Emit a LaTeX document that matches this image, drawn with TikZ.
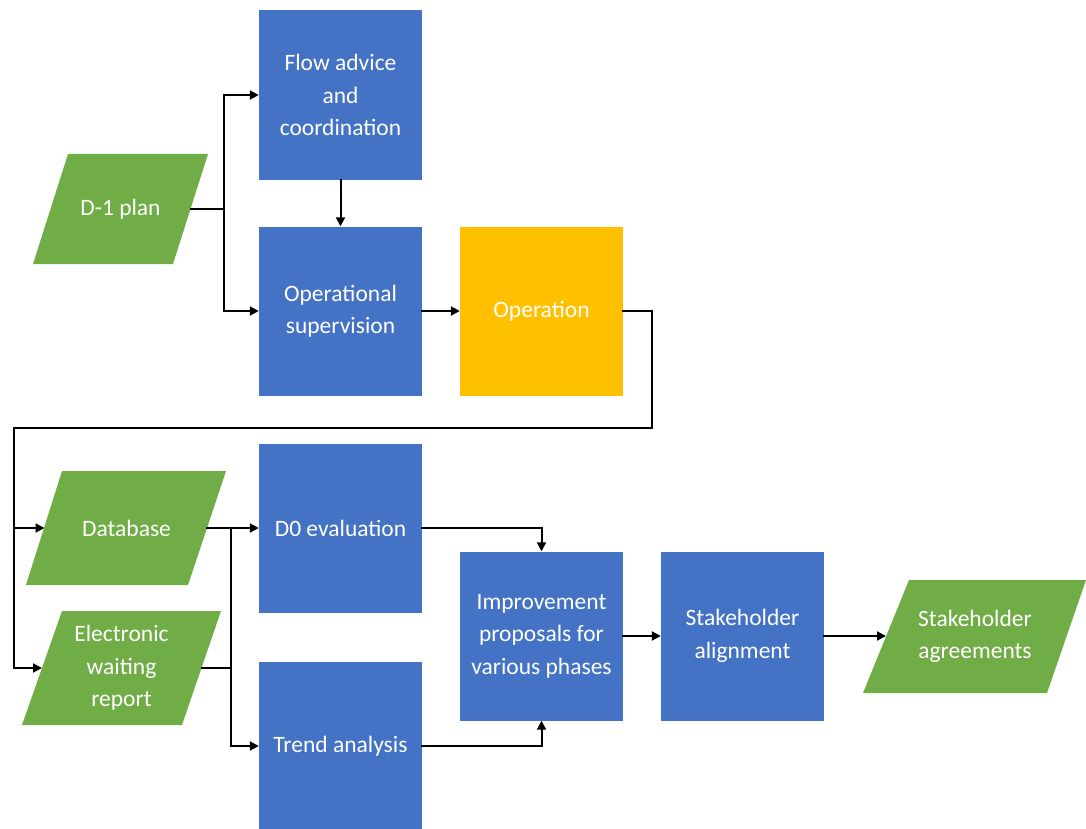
\documentclass[tikz,border=0pt]{standalone}
\usepackage{fontspec}
\setmainfont{Carlito}
\usetikzlibrary{arrows.meta}
\definecolor{boxblue}{HTML}{4472C4}
\definecolor{iogreen}{HTML}{70AD47}
\definecolor{opyellow}{HTML}{FFC000}
\begin{document}
\begin{tikzpicture}[x=1pt,y=-1pt,
  lbl/.style={text=white,align=center,inner sep=0pt,font=\fontsize{23.5}{32.5}\selectfont},
  procbox/.style={lbl,fill=boxblue,minimum width=163pt,minimum height=169pt},
  opbox/.style={procbox,fill=opyellow},
  iofill/.style={fill=iogreen,draw=none},
  conn/.style={line width=2pt,line cap=rect},
  arr/.style={conn,-{Triangle[length=9pt,width=9pt]}},
  thickconn/.style={line width=2.8pt}]
\useasboundingbox (0,0) rectangle (1086,829);

% input/output parallelograms
\fill[iofill] (68,154) -- (208,154) -- (173,264) -- (33,264) -- cycle;
\node[lbl] (d1) at (120.5,209) {D-1 plan};
\coordinate (d1e) at (190.5,209);

\fill[iofill] (62,471) -- (226,471) -- (188,585) -- (26,585) -- cycle;
\node[lbl] (db) at (126.5,528) {Database};
\coordinate (dbw) at (44.5,528);
\coordinate (dbe) at (207,528);

\fill[iofill] (62,611) -- (221,611) -- (182,725) -- (22,725) -- cycle;
\node[lbl] (ewr) at (121.5,668) {Electronic\\waiting\\report};
\coordinate (ewrw) at (42,668);
\coordinate (ewre) at (201.5,668);

\fill[iofill] (909,580) -- (1086,580) -- (1047,693) -- (863,693) -- cycle;
\node[lbl] (sag) at (975,636.5) {Stakeholder\\agreements};
\coordinate (sagw) at (886,636);

% process boxes
\node[procbox,minimum height=170pt] (flow) at (340.5,95) {Flow advice\\and\\coordination};
\node[procbox] (ops) at (340.5,311) {Operational\\supervision};
\node[opbox] (oper) at (541.5,311) {Operation};
\node[procbox] (d0) at (340.5,528) {D0 evaluation};
\node[procbox] (trend) at (340.5,746) {Trend analysis};
\node[procbox] (imp) at (541.5,636) {Improvement\\proposals for\\various phases};
\node[procbox] (sal) at (742.5,636) {Stakeholder\\alignment};

% helper coordinates
\coordinate (xa) at (224,0);
\coordinate (xb) at (231,0);
\coordinate (lr) at (652,428);
\coordinate (ll) at (14,428);

% connectors
\draw[conn] (d1e) -- (d1e -| xa);
\draw[arr] (d1e -| xa) |- (flow.west);
\draw[arr] (d1e -| xa) |- (ops.west);
\draw[arr] (flow.south) -- (ops.north);
\draw[arr] (ops.east) -- (oper.west);

\draw[conn] (oper.east) -- (oper.east -| lr);
\draw[thickconn] (oper.east -| lr) -- (lr) -- (ll);
\draw[arr] (ll) |- (dbw);
\draw[arr] (ll) |- (ewrw);

\draw[arr] (dbe) -- (d0.west);
\draw[conn] (ewre) -- (ewre -| xb);
\draw[arr] (dbe -| xb) |- (trend.west);

\draw[arr] (d0.east) -| (imp.north);
\draw[arr] (trend.east) -| (imp.south);
\draw[arr] (imp.east) -- (sal.west);
\draw[arr] (sal.east) -- (sagw);
\end{tikzpicture}
\end{document}
